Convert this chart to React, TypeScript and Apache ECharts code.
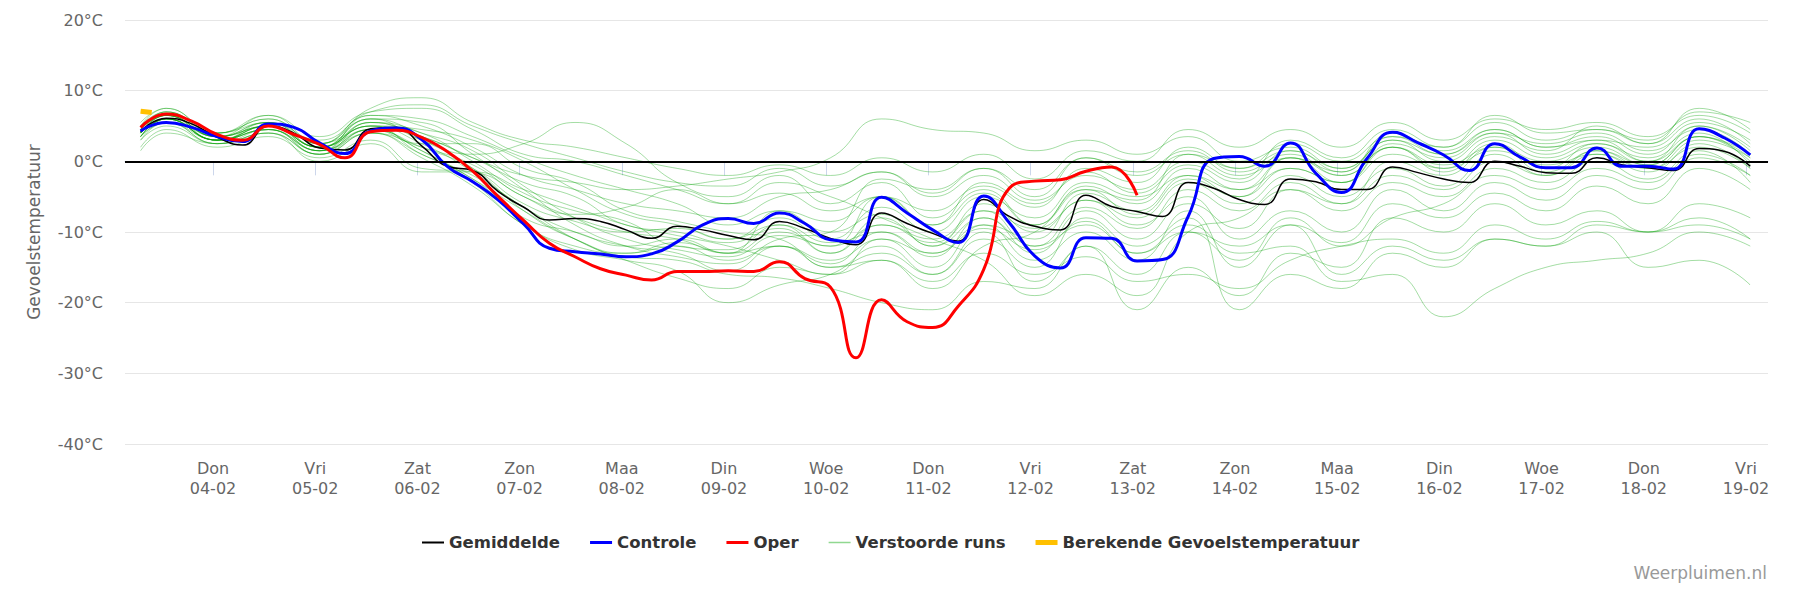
import React, { useEffect, useRef } from 'react';
import * as echarts from 'echarts';

// ---- time grid (local time, drawn as UTC) ----
const HOUR = 3600000;
const DAY = 24 * HOUR;
const RUN_START = Date.UTC(2021, 1, 3, 7, 0); // 03-02 07:00
const AXIS_MIN = Date.UTC(2021, 1, 3, 3, 20);
const AXIS_MAX = Date.UTC(2021, 1, 19, 5, 10);

// hours after run start
const mainHours: number[] = Array.from({ length: 64 }, (_, i) => i * 6);
const memberHours: number[] = [0, 6, 18, 30, 42, 54, 66, 78, 90, 102, 114, 126, 138, 150, 162, 174, 186, 198, 210, 222, 234, 246, 258, 270, 282, 294, 306, 318, 330, 342, 354, 366, 378];

const dayNames = ['Zon', 'Maa', 'Din', 'Woe', 'Don', 'Vri', 'Zat'];

// ---- series values (°C) ----
const gemiddelde = [
  4.2, 6.1, 5.3, 3.4, 2.3, 5.0, 4.0, 1.9, 1.6, 4.6, 4.8, 2.2, -0.7, -1.3, -4.3, -6.5,
  -8.3, -8.1, -8.5, -9.7, -10.9, -9.2, -9.7, -10.5, -11.1, -8.5, -9.5, -10.9, -11.8, -7.3, -8.8, -10.2,
  -11.3, -5.4, -7.8, -9.2, -9.7, -4.8, -6.4, -7.1, -7.8, -3.0, -3.8, -5.4, -6.1, -2.5, -2.9, -4.0,
  -4.0, -0.8, -1.6, -2.5, -3.0, 0.0, -0.7, -1.6, -1.7, 0.5, -0.5, -0.9, -1.3, 1.8, 1.4, -0.7,
];
const controle = [
  4.3, 5.5, 4.8, 3.5, 2.8, 5.3, 4.8, 2.6, 1.1, 4.3, 4.7, 3.1, -0.7, -2.9, -5.5, -8.9,
  -12.3, -12.8, -13.1, -13.5, -13.1, -11.4, -9.0, -8.1, -8.8, -7.3, -8.8, -11.1, -11.4, -5.1, -7.3, -9.7,
  -11.5, -4.9, -8.7, -13.4, -15.1, -10.8, -10.9, -14.1, -13.9, -7.8, 0.4, 0.7, -0.7, 2.6, -1.7, -4.4,
  0.4, 4.1, 2.6, 0.9, -1.3, 2.5, 0.6, -0.9, -0.9, 1.9, -0.7, -0.7, -1.1, 4.6, 3.3, 0.9,
];
const oper = [
  4.8, 6.7, 5.7, 3.8, 3.0, 5.0, 3.8, 2.4, 0.5, 4.2, 4.4, 3.4, 1.4, -1.4, -5.0, -8.4,
  -11.6, -13.5, -15.2, -16.1, -16.8, -15.6, -15.6, -15.5, -15.6, -14.2, -16.6, -17.8, -27.8, -19.6, -22.7, -23.5,
  -20.5, -15.3, -3.8, -2.8, -2.6, -1.4, -0.8, -4.8,
];
const berekendHours = [0, 2.6];
const berekend = [7.1, 6.9];

const m01 = [4.5, 7.0, 3.5, 6.5, 2.5, 7.5, 9.0, 5.5, 3.0, 2.0, 0.5, -1.0, -2.0, -0.5, -2.0, 0.5, -1.5, 1.0, -2.5, 1.5, 0.0, 4.5, 2.0, 4.5, 2.0, 5.5, 3.0, 6.0, 4.5, 5.5, 3.5, 6.5, 4.0];
const m02 = [3.5, 6.0, 3.0, 5.5, 2.0, 6.0, 3.0, 1.0, 2.5, 5.5, 2.5, -3.0, -5.0, -2.0, -6.0, -3.0, -8.0, -4.0, -9.0, -3.5, -6.0, -1.0, -4.0, 0.5, -3.0, 2.0, -1.0, 3.0, 0.5, 2.5, 0.0, 3.5, 0.5];
const m03 = [4.0, 6.5, 3.5, 5.0, 2.0, 5.0, 3.5, 0.5, -2.0, -3.0, -4.0, -3.5, -2.5, -1.5, 0.5, 6.0, 4.5, 4.0, 1.5, 3.0, 1.0, 3.5, 0.0, 2.0, -1.0, 3.0, 1.0, 4.0, 2.5, 4.0, 1.5, 4.5, 1.0];
const m04 = [4.0, 6.0, 3.0, 4.5, 1.0, 4.0, 1.0, -2.5, -8.0, -10.0, -12.0, -11.0, -13.0, -10.0, -12.0, -9.0, -11.5, -7.0, -12.0, -9.0, -13.0, -9.0, -13.0, -12.0, -17.0, -16.0, -22.0, -18.0, -15.0, -14.0, -13.0, -10.0, -12.0];
const m05 = [3.0, 5.5, 2.5, 4.5, 1.5, 4.5, 1.5, -3.0, -9.0, -12.0, -13.0, -12.0, -14.0, -12.0, -15.0, -13.0, -16.0, -11.0, -15.0, -8.0, -12.0, -8.0, -21.0, -16.0, -18.0, -13.0, -15.0, -11.0, -12.0, -9.0, -10.0, -6.0, -8.0];
const m06 = [4.0, 6.0, 3.0, 5.0, 1.5, 4.5, 1.5, -2.5, -7.0, -11.0, -13.5, -14.0, -16.0, -16.5, -18.0, -20.0, -21.0, -17.0, -18.0, -12.0, -16.0, -10.0, -14.0, -8.0, -12.0, -8.0, -6.0, -2.0, -4.0, -1.0, -3.0, 1.0, -2.0];
const m07 = [3.5, 5.5, 2.5, 4.0, 1.0, 4.0, 0.5, -3.5, -9.0, -12.5, -14.0, -15.5, -20.0, -17.5, -16.0, -12.0, -16.0, -10.0, -17.0, -12.0, -21.0, -15.0, -19.0, -13.0, -15.0, -8.0, -10.0, -6.0, -9.0, -7.0, -10.0, -8.0, -11.0];
const m08 = [2.0, 4.5, 2.0, 3.5, 0.5, 3.0, -1.0, -1.5, -5.0, -8.0, -10.0, -11.0, -13.0, -12.0, -14.0, -11.0, -15.0, -9.0, -14.0, -10.0, -14.0, -7.0, -15.0, -9.0, -16.0, -12.0, -14.0, -11.0, -12.0, -10.0, -15.0, -14.0, -17.5];
const m09 = [4.5, 6.5, 3.5, 5.0, 2.0, 4.5, 2.0, -1.0, -6.0, -8.5, -10.0, -9.5, -11.0, -8.0, -11.0, -6.5, -10.0, -5.0, -8.0, -3.0, -5.0, -2.0, -4.0, -1.0, -3.0, 1.0, -1.0, 1.5, -0.5, 1.0, -1.0, 2.0, -1.0];
const m10 = [5.0, 7.5, 4.0, 6.0, 2.5, 6.5, 5.0, 2.0, -2.0, -4.0, -6.0, -7.0, -8.0, -5.0, -4.0, -1.5, -5.0, -2.0, -5.5, -2.0, -4.0, 0.0, -2.5, 3.0, 0.5, 4.5, 2.0, 5.5, 3.0, 4.5, 2.5, 7.5, 4.5];
const m11 = [3.0, 5.0, 2.5, 4.0, 1.0, 5.5, 4.0, 0.0, -4.5, -7.0, -8.5, -12.0, -12.5, -9.0, -13.0, -8.0, -12.0, -6.0, -10.0, -5.5, -8.0, -3.0, -6.0, -2.0, -5.0, -1.0, -3.5, 1.0, -2.0, 1.5, -1.0, 3.0, 0.5];
const m12 = [4.0, 6.5, 3.0, 4.5, 1.5, 6.5, 6.0, 3.5, 0.5, -2.0, -4.0, -6.0, -9.0, -7.0, -8.5, -5.0, -7.0, -3.5, -6.5, -1.0, -3.0, 2.0, -1.0, 1.5, -1.5, 4.0, 1.5, 4.5, 2.0, 3.5, 1.0, 5.0, 2.0];
const m13 = [4.5, 7.0, 4.0, 5.5, 2.0, 5.0, 2.5, -1.5, -6.5, -10.0, -12.0, -13.0, -15.5, -12.0, -14.5, -10.0, -13.5, -8.0, -12.0, -6.5, -9.5, -4.0, -7.0, -3.0, -6.0, 0.0, -2.0, 2.0, 0.0, 2.0, -0.5, 3.5, 0.0];
const m14 = [3.5, 6.0, 3.0, 5.0, 1.5, 5.5, 3.5, 0.5, -3.0, -5.0, -9.0, -10.0, -11.5, -9.5, -13.0, -9.0, -11.0, -7.0, -9.5, -5.5, -9.0, -5.0, -11.0, -7.0, -10.0, -4.0, -7.0, -3.0, -5.5, -2.0, -4.0, 0.5, -2.0];
const m15 = [5.5, 7.5, 4.0, 6.5, 3.5, 7.0, 7.5, 4.5, 1.0, 0.0, -2.0, -4.0, -6.0, -4.5, -7.0, -5.0, -9.0, -4.5, -9.0, -4.0, -7.5, -2.5, -5.0, -1.0, -3.0, 2.5, 0.5, 4.0, 1.0, 3.0, 2.0, 5.5, 3.0];
const m16 = [4.0, 6.0, 3.5, 5.5, 2.5, 6.0, 4.0, 1.5, -3.5, -8.0, -11.0, -12.5, -13.5, -10.5, -12.0, -5.0, -9.0, -3.0, -6.0, -1.5, -4.5, -0.5, -3.0, 1.5, -1.0, 3.0, 0.0, 3.5, 1.5, 5.0, 2.5, 6.0, 2.5];
const m17 = [1.5, 4.0, 2.5, 4.0, 0.0, 2.5, -1.5, -1.5, -4.0, -6.5, -9.0, -10.5, -12.0, -14.0, -16.0, -14.0, -17.0, -13.0, -16.0, -13.5, -17.0, -16.0, -18.0, -14.0, -12.0, -11.0, -13.0, -9.0, -11.0, -8.5, -10.0, -9.0, -11.0];
const m18 = [4.5, 6.5, 3.5, 5.5, 3.0, 7.0, 8.0, 5.0, 2.5, 0.5, -1.5, -3.0, -3.5, -1.0, -3.5, -1.5, -4.5, -1.0, -5.0, 0.5, -2.0, 1.0, -1.0, 2.5, 0.0, 3.5, 2.0, 6.5, 4.0, 4.5, 3.0, 7.0, 5.5];
const m19 = [3.5, 5.5, 3.0, 5.0, 2.0, 5.5, 3.0, -1.0, -7.0, -11.0, -13.0, -11.5, -13.0, -7.0, -10.0, -7.5, -12.0, -8.0, -13.0, -7.0, -11.0, -6.0, -9.5, -4.0, -7.0, -3.0, -5.0, -1.0, -3.0, 0.0, -2.5, 1.5, -3.0];
const m20 = [4.0, 6.0, 3.0, 4.5, 1.0, 4.5, 2.5, 2.5, -1.0, -3.0, -7.0, -8.5, -10.0, -11.0, -15.0, -14.0, -18.0, -12.0, -10.0, -4.0, -5.5, 1.0, -2.0, 0.5, -2.0, 2.0, -1.5, 2.5, -1.0, 2.5, 0.5, 4.0, -0.5];
const m21 = [4.0, 6.5, 3.0, 5.0, 2.0, 5.0, 4.5, 3.0, 0.0, -4.0, -7.5, -9.0, -11.0, -9.0, -11.5, -10.0, -13.0, -9.0, -11.0, -4.5, -7.0, -2.0, -5.0, 0.5, -1.5, 3.5, 1.0, 4.5, 2.0, 3.0, 0.0, 5.0, 1.5];
const m22 = [5.0, 7.0, 4.0, 6.0, 2.5, 5.0, 1.0, -2.0, -6.5, -11.0, -14.0, -16.5, -18.0, -15.0, -16.0, -11.0, -13.0, -9.5, -12.5, -8.5, -13.0, -10.0, -12.0, -9.0, -11.5, -6.0, -8.0, -4.5, -7.0, -3.5, -6.0, -1.0, -4.0];
const m23 = [3.5, 6.0, 3.0, 4.5, 1.5, 4.0, 2.0, -0.5, -5.0, -7.5, -6.5, -4.0, -6.0, -3.0, -5.0, -8.0, -11.0, -14.0, -19.0, -16.0, -19.0, -10.0, -8.0, -4.0, -6.0, -2.0, -4.0, 0.0, -2.0, 1.0, -1.5, 2.5, -1.0];
const m24 = [4.5, 6.5, 3.5, 5.0, 2.0, 6.0, 5.5, 1.0, -4.0, -9.0, -12.0, -13.5, -14.5, -11.0, -10.0, -2.5, -4.0, -1.0, -4.0, 0.5, -1.5, 1.5, -1.5, 1.0, -2.0, 2.0, -0.5, 2.0, -1.5, 1.5, -0.5, 3.5, 1.0];
const members = [m01, m02, m03, m04, m05, m06, m07, m08, m09, m10, m11, m12, m13, m14, m15, m16, m17, m18, m19, m20, m21, m22, m23, m24];

const yTicks = [-40, -30, -20, -10, 0, 10, 20];

const FONT = 'DejaVu Sans, Noto Sans, sans-serif';

const pairs = (hours: number[], values: number[]) =>
  values.map((v, i) => [RUN_START + hours[i] * HOUR, v]);

const pad2 = (n: number) => (n < 10 ? '0' + n : '' + n);

// legend icon: a horizontal bar of given thickness inside a 22x12 box
const barIcon = (t: number) => {
  const y0 = 6 - t / 2;
  const y1 = 6 + t / 2;
  return `path://M0,0L0.01,0L0,0.01Z M0,${y0}L22,${y0}L22,${y1}L0,${y1}Z M22,12L21.99,12L22,11.99Z`;
};

export default function App() {
  const ref = useRef<HTMLDivElement>(null);

  useEffect(() => {
    if (!ref.current) return;
    const chart = echarts.init(ref.current, undefined, { renderer: 'svg' });

    const green = 'rgba(0,160,0,0.36)';
    const memberSeries = members.map((m) => ({
      name: 'Verstoorde runs',
      type: 'line',
      data: pairs(memberHours, m),
      smooth: 0.5,
      symbol: 'none',
      silent: true,
      z: 1,
      lineStyle: { color: green, width: 1 },
      itemStyle: { color: green },
    }));

    const option: any = {
      animation: false,
      useUTC: true,
      textStyle: { fontFamily: FONT },
      grid: { left: 125, right: 37, top: 20, bottom: 169, containLabel: false },
      legend: {
        left: 417,
        top: 529,
        itemWidth: 22,
        itemHeight: 12,
        itemGap: 30,
        selectedMode: false,
        textStyle: { fontSize: 16.5, fontWeight: 'bold', color: '#333', fontFamily: FONT },
        data: [
          { name: 'Gemiddelde', icon: barIcon(2), itemStyle: { color: '#000' } },
          { name: 'Controle', icon: barIcon(3), itemStyle: { color: '#0000ff' } },
          { name: 'Oper', icon: barIcon(3), itemStyle: { color: '#ff0000' } },
          { name: 'Verstoorde runs', icon: barIcon(1.5), itemStyle: { color: '#90d890' } },
          { name: 'Berekende Gevoelstemperatuur', icon: barIcon(5), itemStyle: { color: '#ffc000' } },
        ],
      },
      xAxis: {
        type: 'time',
        min: AXIS_MIN,
        max: AXIS_MAX,
        minInterval: DAY,
        maxInterval: DAY,
        splitNumber: 16,
        axisLine: { lineStyle: { color: '#ccd6eb', width: 1 } },
        axisTick: { show: true, length: 14, lineStyle: { color: '#ccd6eb' } },
        splitLine: { show: false },
        axisLabel: {
          color: '#666',
          fontSize: 16,
          lineHeight: 20,
          margin: 14,
          fontFamily: FONT,
          hideOverlap: false,
          formatter: (val: number) => {
            const d = new Date(val);
            return dayNames[d.getUTCDay()] + '\n' + pad2(d.getUTCDate()) + '-' + pad2(d.getUTCMonth() + 1);
          },
        },
      },
      yAxis: {
        type: 'value',
        min: yTicks[0],
        max: yTicks[yTicks.length - 1],
        interval: 10,
        name: 'Gevoelstemperatuur',
        nameLocation: 'middle',
        nameGap: 83,
        nameTextStyle: { color: '#666', fontSize: 17, fontFamily: FONT },
        axisLine: { show: false },
        axisTick: { show: false },
        splitLine: { lineStyle: { color: '#e6e6e6', width: 1 } },
        axisLabel: { formatter: '{value}°C', color: '#666', fontSize: 16, margin: 22, fontFamily: FONT },
      },
      graphic: [
        {
          type: 'text',
          right: 38,
          top: 564,
          style: { text: 'Weerpluimen.nl', fill: '#999', fontSize: 17, fontFamily: FONT },
        },
      ],
      series: [
        ...memberSeries,
        {
          name: 'Gemiddelde',
          type: 'line',
          data: pairs(mainHours, gemiddelde),
          smooth: 0.5,
          symbol: 'none',
          z: 3,
          lineStyle: { color: '#000', width: 1.5 },
          itemStyle: { color: '#000' },
          markLine: {
            silent: true,
            symbol: 'none',
            label: { show: false },
            lineStyle: { color: '#000', width: 2, type: 'solid' },
            data: [{ yAxis: 0 }],
          },
        },
        {
          name: 'Controle',
          type: 'line',
          data: pairs(mainHours, controle),
          smooth: 0.5,
          symbol: 'none',
          z: 4,
          lineStyle: { color: '#0000ff', width: 3 },
          itemStyle: { color: '#0000ff' },
        },
        {
          name: 'Oper',
          type: 'line',
          data: pairs(mainHours, oper),
          smooth: 0.5,
          symbol: 'none',
          z: 5,
          lineStyle: { color: '#ff0000', width: 3 },
          itemStyle: { color: '#ff0000' },
        },
        {
          name: 'Berekende Gevoelstemperatuur',
          type: 'line',
          data: pairs(berekendHours, berekend),
          symbol: 'none',
          z: 6,
          lineStyle: { color: '#ffc000', width: 5 },
          itemStyle: { color: '#ffc000' },
        },
      ],
    };

    chart.setOption(option);
    return () => chart.dispose();
  }, []);

  return (
    <div
      ref={ref}
      style={{ position: 'fixed', left: 0, top: 0, width: 1805, height: 613, background: '#fff' }}
    />
  );
}
